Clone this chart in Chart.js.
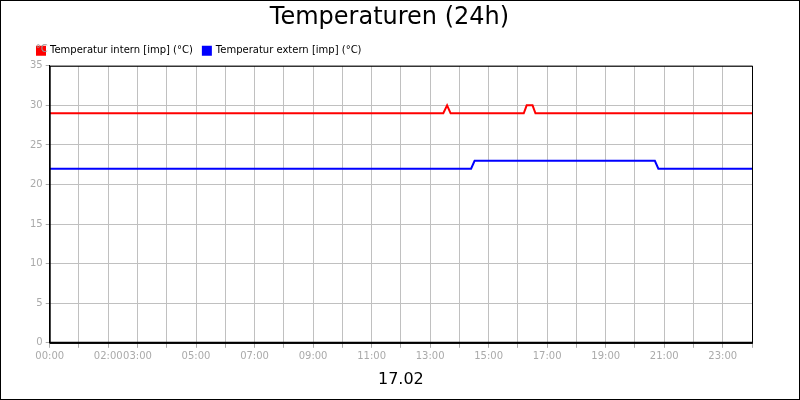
<!DOCTYPE html>
<html>
<head>
<meta charset="utf-8">
<script src="https://cdn.jsdelivr.net/npm/chart.js@4"></script>
<style>
  body { margin: 0; background: #fff; }
  #wrap { width: 798px; height: 398px; border: 1px solid #000; }
</style>
</head>
<body>
<div id="wrap"><canvas id="c" width="798" height="398"></canvas></div>
<script>
// hours of day (0-24) and temperatures in °C
const internHours = [0, 13.45, 13.58, 13.7, 16.2, 16.3, 16.5, 16.6, 24];
const internTemps = [29, 29, 30, 29, 29, 30, 30, 29, 29];
const externHours = [0, 14.4, 14.52, 20.68, 20.8, 24];
const externTemps = [22, 22, 23, 23, 22, 22];
const tickLabels = ['00:00', '02:00', '03:00', '05:00', '07:00', '09:00', '11:00', '13:00', '15:00', '17:00', '19:00', '21:00', '23:00'];

const pts = (xs, ys) => xs.map((x, i) => ({ x: x, y: ys[i] }));

const frame = {
    id: 'frame',
    afterDraw(chart) {
        const { ctx, chartArea: a } = chart;
        ctx.save();
        ctx.strokeStyle = '#000';
        ctx.lineWidth = 1;
        ctx.strokeRect(a.left + 0.5, a.top + 0.5, a.right - a.left, a.bottom - a.top);
        ctx.lineWidth = 2;
        ctx.beginPath();
        ctx.moveTo(a.left, a.bottom);
        ctx.lineTo(a.right, a.bottom);
        ctx.stroke();
        ctx.fillStyle = '#999';
        ctx.font = '10px "DejaVu Sans"';
        ctx.fillText('°C', a.left - 14, a.top - 16);
        ctx.restore();
    }
};

new Chart(document.getElementById('c'), {
    type: 'line',
    data: {
        datasets: [{
            label: 'Temperatur intern [imp] (°C)',
            data: pts(internHours, internTemps),
            borderColor: '#ff0000',
            backgroundColor: '#ff0000',
            borderWidth: 2,
            pointRadius: 0
        }, {
            label: 'Temperatur extern [imp] (°C)',
            data: pts(externHours, externTemps),
            borderColor: '#0000ff',
            backgroundColor: '#0000ff',
            borderWidth: 2,
            pointRadius: 0
        }]
    },
    options: {
        responsive: false,
        animation: false,
        layout: { padding: { left: 26, right: 47, top: 0, bottom: 6 } },
        plugins: {
            title: {
                display: true,
                text: 'Temperaturen (24h)',
                color: '#000',
                font: { family: 'DejaVu Sans', size: 24, weight: 'normal' },
                padding: { top: 2, bottom: 4 }
            },
            legend: {
                align: 'start',
                labels: {
                    boxWidth: 8, boxHeight: 8, color: '#000',
                    font: { family: 'DejaVu Sans', size: 10 },
                    padding: 10
                }
            },
            tooltip: { enabled: false }
        },
        scales: {
            x: {
                type: 'linear', min: 0, max: 24,
                afterBuildTicks: axis => {
                    axis.ticks = [];
                    for (let h = 0; h <= 24; h++) axis.ticks.push({ value: h });
                },
                ticks: {
                    autoSkip: false, maxRotation: 0, color: '#aaa',
                    font: { family: 'DejaVu Sans', size: 10 },
                    callback: v => {
                        const s = String(v).padStart(2, '0') + ':00';
                        return tickLabels.includes(s) ? s : '';
                    }
                },
                grid: { color: '#c0c0c0', tickLength: 5, tickColor: '#aaa' },
                border: { color: '#000' },
                title: { display: true, text: '17.02', color: '#000', font: { family: 'DejaVu Sans', size: 16 }, padding: { top: 4 } }
            },
            y: {
                min: 0, max: 35,
                ticks: { stepSize: 5, color: '#aaa', font: { family: 'DejaVu Sans', size: 10 } },
                grid: { color: '#c0c0c0', tickLength: 4, tickColor: '#aaa' },
                border: { color: '#000' }
            }
        }
    },
    plugins: [frame]
});
</script>
</body>
</html>
